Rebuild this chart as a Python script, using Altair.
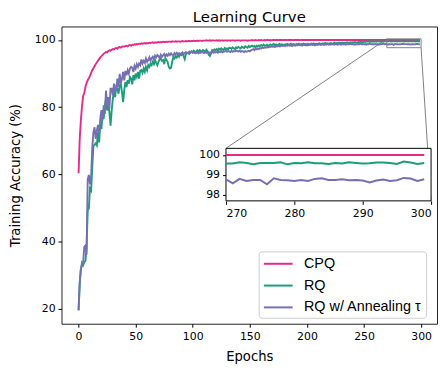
import altair as alt
import pandas as pd

epochs = list(range(300))

cpq = [
    60.3, 70.5, 76.0, 80.2, 83.3, 84.2, 86.0, 87.2, 88.0, 88.6,
    89.3, 90.2, 91.0, 91.6, 92.2, 92.8, 93.3, 93.8, 94.3, 94.8,
    95.2, 95.5, 95.9, 96.1, 96.4, 96.3, 96.7, 96.9, 96.8, 97.1,
    97.3, 97.2, 97.5, 97.6, 97.4, 97.8, 97.9, 97.7, 98.0, 98.1,
    98.0, 98.2, 98.3, 98.1, 98.4, 98.5, 98.3, 98.6, 98.5, 98.7,
    98.6, 98.8, 98.7, 98.9, 98.8, 99.0, 98.9, 99.0, 99.1, 98.9,
    99.1, 99.0, 99.2, 99.1, 99.2, 99.3, 99.1, 99.3, 99.2, 99.3,
    99.4, 99.3, 99.4, 99.3, 99.5, 99.4, 99.4, 99.5, 99.4, 99.5,
    99.5, 99.4, 99.6, 99.5, 99.5, 99.6, 99.5, 99.6, 99.6, 99.5,
    99.6, 99.7, 99.6, 99.6, 99.7, 99.6, 99.7, 99.7, 99.6, 99.7,
    99.7, 99.8, 99.7, 99.7, 99.8, 99.7, 99.8, 99.8, 99.7, 99.8,
    99.8, 99.8, 99.9, 99.8, 99.8, 99.9, 99.8, 99.9, 99.9, 99.8,
    99.8, 99.9, 99.8, 99.9, 99.8, 99.9, 99.9, 99.8, 99.9, 99.9,
    99.8, 99.9, 99.9, 99.8, 99.9, 99.9, 99.9, 99.8, 99.9, 99.9,
    99.9, 99.9, 99.8, 99.9, 99.9, 99.9, 99.9, 99.9, 99.8, 99.9,
    99.9, 99.9, 100.0, 99.9, 99.9, 100.0, 99.9, 99.9, 100.0, 99.9,
    100.0, 99.9, 99.9, 100.0, 99.9, 100.0, 100.0, 99.9, 100.0, 99.9,
    100.0, 100.0, 99.95, 100.0, 100.0, 99.95, 100.0, 100.0, 100.0, 99.95,
    100.0, 100.0, 100.0, 99.95, 100.0, 100.0, 100.0, 100.0, 99.95, 100.0,
    100.0, 100.0, 100.0, 100.0, 99.95, 100.0, 100.0, 100.0, 100.0, 100.0,
] + [100.0] * 100

rq = [
    19.5, 27.2, 31.5, 33.6, 32.9, 33.8, 34.2, 38.0, 49.3, 49.8,
    55.8, 55.2, 62.0, 68.5, 68.8, 69.2, 68.6, 72.5, 69.5, 75.0,
    73.5, 78.0, 76.5, 80.5, 82.3, 79.0, 81.0, 78.5, 74.5, 79.0,
    82.5, 84.5, 83.0, 86.0, 85.5, 84.0, 86.5, 87.0, 84.5, 81.5,
    85.0, 87.5, 86.0, 88.0, 87.0, 89.0, 88.5, 86.8, 89.5, 88.0,
    90.0, 89.0, 90.5, 88.5, 90.8, 91.0, 90.2, 91.5, 90.5, 92.0,
    91.0, 92.5, 92.0, 93.0, 92.5, 93.5, 92.8, 94.0, 93.2, 92.5,
    93.5, 94.2, 94.5, 93.8, 94.0, 92.8, 94.6, 94.0, 93.5, 92.0,
    91.5, 91.7, 93.5, 95.0, 94.5, 95.2, 94.8, 95.5, 95.0, 95.8,
    95.5, 96.0, 95.2, 94.3, 95.8, 96.2, 96.0, 96.5, 96.2, 96.6,
    96.3, 96.8, 96.5, 96.2, 96.9, 96.6, 97.0, 96.7, 96.4, 97.0,
    96.8, 96.5, 97.1, 96.6, 95.6, 95.2, 96.0, 97.0, 96.8, 97.2,
    97.0, 97.3, 96.9, 97.4, 97.1, 97.5, 97.2, 97.0, 97.6, 97.3,
    97.5, 97.2, 97.7, 97.6, 97.4, 97.8, 97.5, 97.3, 97.8, 97.6,
    97.9, 97.7, 97.5, 98.0, 97.8, 97.6, 98.1, 97.9, 97.7, 98.2,
    97.9, 98.1, 98.3, 98.0, 98.2, 97.8, 98.3, 98.1, 98.4, 98.2,
    98.5, 98.2, 98.6, 98.3, 98.4, 98.6, 98.2, 98.5, 98.7, 98.4,
    98.6, 98.8, 98.5, 98.7, 98.4, 98.6, 98.8, 98.5, 98.7, 98.6,
    98.5, 98.7, 98.6, 98.8, 98.5, 98.7, 98.9, 98.6, 98.8, 98.7,
    98.6, 98.8, 98.7, 98.9, 98.6, 98.8, 98.7, 98.9, 98.7, 98.8,
    98.7, 98.9, 98.8, 98.6, 98.9, 98.8, 99.0, 98.7, 98.9, 98.8,
    98.9, 99.0, 98.8, 98.9, 99.0, 98.8, 99.1, 98.9, 99.0, 98.9,
    99.0, 99.1, 98.9, 99.0, 99.2, 99.0, 99.1, 99.0, 99.2, 99.1,
    99.1, 99.2, 99.0, 99.2, 99.1, 99.3, 99.2, 99.1, 99.3, 99.2,
    99.3, 99.2, 99.4, 99.3, 99.2, 99.4, 99.3, 99.5, 99.4, 99.3,
    99.5, 99.4, 99.5, 99.6, 99.5, 99.4, 99.6, 99.5, 99.6, 99.5,
    99.6, 99.5, 99.6, 99.6, 99.5, 99.6, 99.6, 99.5, 99.6, 99.6,
    99.57, 99.57, 99.63, 99.60, 99.53, 99.60, 99.60, 99.60, 99.63, 99.53,
    99.60, 99.58, 99.63, 99.58, 99.58, 99.55, 99.60, 99.57, 99.63, 99.60,
    99.57, 99.58, 99.62, 99.62, 99.60, 99.55, 99.67, 99.62, 99.55, 99.60,
]

rq_anneal = [
    19.5, 28.0, 31.8, 33.0, 33.6, 38.4, 38.8, 36.0, 58.5, 59.8,
    57.0, 59.5, 68.0, 72.5, 74.0, 70.5, 73.0, 74.7, 72.0, 76.5,
    79.1, 76.0, 80.5, 78.0, 84.9, 80.6, 83.0, 79.5, 85.5, 85.5,
    83.5, 87.0, 84.8, 85.2, 88.5, 86.0, 89.9, 87.2, 88.4, 90.5,
    88.0, 90.8, 89.5, 91.0, 90.0, 91.5, 92.0, 91.7, 90.5, 92.3,
    91.5, 92.8, 92.0, 93.0, 92.5, 94.2, 93.0, 93.8, 93.2, 94.5,
    93.5, 94.0, 94.8, 93.8, 94.6, 95.0, 94.2, 95.3, 94.8, 95.5,
    95.2, 94.6, 95.6, 95.0, 95.4, 95.8, 95.1, 95.7, 95.3, 95.9,
    95.5, 96.0, 95.6, 95.2, 96.1, 95.7, 96.2, 95.8, 96.1, 95.9,
    96.0, 96.3, 95.8, 96.1, 96.4, 96.0, 96.2, 95.9, 96.5, 96.6,
    96.2, 96.4, 96.1, 96.5, 96.3, 96.0, 96.4, 96.2, 96.6, 96.3,
    96.1, 96.4, 96.2, 96.5, 96.0, 96.3, 96.1, 96.6, 96.2, 96.4,
    96.3, 96.5, 96.2, 96.6, 96.4, 96.7, 96.3, 96.5, 96.6, 96.8,
    96.5, 96.7, 96.6, 96.4, 96.8, 96.5, 96.7, 96.6, 96.9, 96.7,
    96.6, 96.8, 96.5, 96.7, 96.6, 96.4, 96.7, 96.5, 96.6, 96.8,
    96.6, 96.9, 97.1, 97.3, 97.0, 97.4, 97.2, 97.5, 97.3, 97.6,
    97.5, 97.7, 97.6, 97.8, 97.7, 97.9, 97.8, 98.0, 97.9, 98.1,
    98.0, 98.1, 97.9, 98.2, 98.1, 98.3, 98.1, 98.2, 98.4, 98.2,
    98.3, 98.2, 98.4, 98.3, 98.5, 98.3, 98.4, 98.2, 98.5, 98.4,
    98.3, 98.5, 98.4, 98.6, 98.4, 98.5, 98.3, 98.6, 98.5, 98.4,
    98.5, 98.4, 98.6, 98.5, 98.7, 98.5, 98.6, 98.4, 98.6, 98.5,
    98.6, 98.7, 98.5, 98.6, 98.7, 98.5, 98.7, 98.6, 98.8, 98.6,
    98.7, 98.6, 98.8, 98.7, 98.6, 98.8, 98.7, 98.6, 98.8, 98.7,
    98.6, 98.8, 98.7, 98.8, 98.6, 98.7, 98.8, 98.7, 98.9, 98.7,
    98.8, 98.7, 98.6, 98.8, 98.7, 98.8, 98.7, 98.9, 98.7, 98.8,
    98.7, 98.8, 98.6, 98.8, 98.7, 98.9, 98.8, 98.7, 98.8, 98.7,
    98.8, 98.7, 98.8, 98.6, 98.8, 98.7, 98.8, 98.9, 98.7, 98.8,
    98.78, 98.58, 98.80, 98.70, 98.75, 98.75, 98.53, 98.83, 98.75, 98.73,
    98.70, 98.75, 98.70, 98.80, 98.83, 98.75, 98.75, 98.78, 98.73, 98.75,
    98.72, 98.62, 98.72, 98.77, 98.70, 98.73, 98.85, 98.82, 98.70, 98.78,
]

title_text = "Learning Curve"
series_names = ["CPQ", "RQ", "RQ w/ Annealing τ"]
colors = ["#e7298a", "#1b9e77", "#7570b3"]

x_ticks = [0, 50, 100, 150, 200, 250, 300]
y_ticks = [20, 30, 40, 50, 60, 70, 80, 90, 100]
inset_x_ticks = [270, 280, 290, 300]
inset_y_ticks = [98, 99, 100]
inset_x_domain = [270, 300]
inset_y_domain = [97.7, 100.33]
main_x_domain = [-14.95, 313.95]
main_y_domain = [15.48, 104.02]

W, H = 379, 300
IX0, IX1, IY0, IY1 = 166, 373, 123, 176

df = pd.DataFrame({
    "epoch": epochs * 3,
    "acc": cpq + rq + rq_anneal,
    "series": [series_names[0]] * 300 + [series_names[1]] * 300 + [series_names[2]] * 300,
})

color = alt.Color(
    "series:N",
    scale=alt.Scale(domain=series_names, range=colors),
    sort=series_names,
    legend=alt.Legend(
        title=None, orient="none", legendX=199, legendY=227,
        fillColor="rgba(255,255,255,0.8)", strokeColor="#cccccc", cornerRadius=3,
        padding=4, labelFont="Liberation Sans", labelFontSize=14.5, labelColor="black",
        symbolType="M-2,0H2", symbolSize=210, symbolStrokeWidth=2,
        symbolOffset=7.25, labelOffset=17.5, rowPadding=7,
    ),
)

xs = alt.Scale(domain=main_x_domain, nice=False, zero=False)
ys = alt.Scale(domain=main_y_domain, nice=False, zero=False)

main_lines = alt.Chart(df).mark_line(strokeWidth=1.9).encode(
    x=alt.X("epoch:Q", scale=xs, axis=alt.Axis(
        values=x_ticks, title="Epochs", titleY=37, titleBaseline="alphabetic")),
    y=alt.Y("acc:Q", scale=ys, axis=alt.Axis(
        values=y_ticks, title="Training Accuracy (%)", titleX=-42, titleY=150,
        titleAngle=270, titleBaseline="alphabetic", titleAlign="center")),
    color=color,
)

box_df = pd.DataFrame({
    "x": [inset_x_domain[0]], "x2": [inset_x_domain[1]],
    "y": [inset_y_domain[0]], "y2": [inset_y_domain[1]],
})

zoom_box = alt.Chart(box_df).mark_rect(fillOpacity=0, stroke="#808080", strokeWidth=1).encode(
    x=alt.X("x:Q", scale=xs), x2="x2", y=alt.Y("y:Q", scale=ys), y2="y2"
)

conn_left = alt.Chart(pd.DataFrame({"x": [inset_x_domain[0]], "y": [inset_y_domain[1]]})).mark_rule(
    color="#808080", strokeWidth=1).encode(
    x=alt.X("x:Q", scale=xs), y=alt.Y("y:Q", scale=ys),
    x2=alt.value(IX0), y2=alt.value(IY0),
)
conn_right = alt.Chart(pd.DataFrame({"x": [inset_x_domain[1]], "y": [inset_y_domain[0]]})).mark_rule(
    color="#808080", strokeWidth=1).encode(
    x=alt.X("x:Q", scale=xs), y=alt.Y("y:Q", scale=ys),
    x2=alt.value(IX1), y2=alt.value(IY1),
)

title_mark = alt.Chart(pd.DataFrame({"t": [title_text]})).mark_text(
    font="DejaVu Sans", fontSize=15, color="black", baseline="alphabetic", align="center"
).encode(text="t:N", x=alt.value(W / 2), y=alt.value(-5))

main = alt.layer(conn_left, conn_right, main_lines, zoom_box, title_mark)

ixs = alt.Scale(domain=inset_x_domain, range=[IX0, IX1], nice=False, zero=False)
iys = alt.Scale(domain=inset_y_domain, range=[IY1, IY0], nice=False, zero=False)
ix_axis = alt.Axis(values=inset_x_ticks, orient="bottom", offset=IY1 - H, title="")
iy_axis = alt.Axis(values=inset_y_ticks, orient="left", offset=-IX0, title="")

inset_bg = alt.Chart(box_df).mark_rect(fill="white", stroke="black", strokeWidth=1).encode(
    x=alt.X("x:Q", scale=ixs, axis=ix_axis),
    x2="x2",
    y=alt.Y("y:Q", scale=iys, axis=iy_axis),
    y2="y2",
)

inset_lines = alt.Chart(df).transform_filter(alt.datum.epoch >= 270).mark_line(strokeWidth=2).encode(
    x=alt.X("epoch:Q", scale=ixs, axis=ix_axis),
    y=alt.Y("acc:Q", scale=iys, axis=iy_axis),
    color=color,
)

inset = alt.layer(inset_bg, inset_lines)

chart = alt.layer(main, inset).resolve_scale(x="independent", y="independent").properties(
    width=W, height=H,
    autosize=alt.AutoSizeParams(type="none"),
    padding={"left": 54, "top": 17, "right": 2, "bottom": 40},
).configure_view(stroke="#222", strokeWidth=1).configure_axis(
    labelFont="DejaVu Sans", labelFontSize=11, labelColor="black",
    tickColor="black", tickSize=3.5, labelPadding=3, domain=False, grid=False,
    titleFont="DejaVu Sans", titleFontSize=13.3, titleFontWeight="normal", titleColor="black",
)

chart.save("out.html", embed_options={"renderer": "svg", "actions": False})
